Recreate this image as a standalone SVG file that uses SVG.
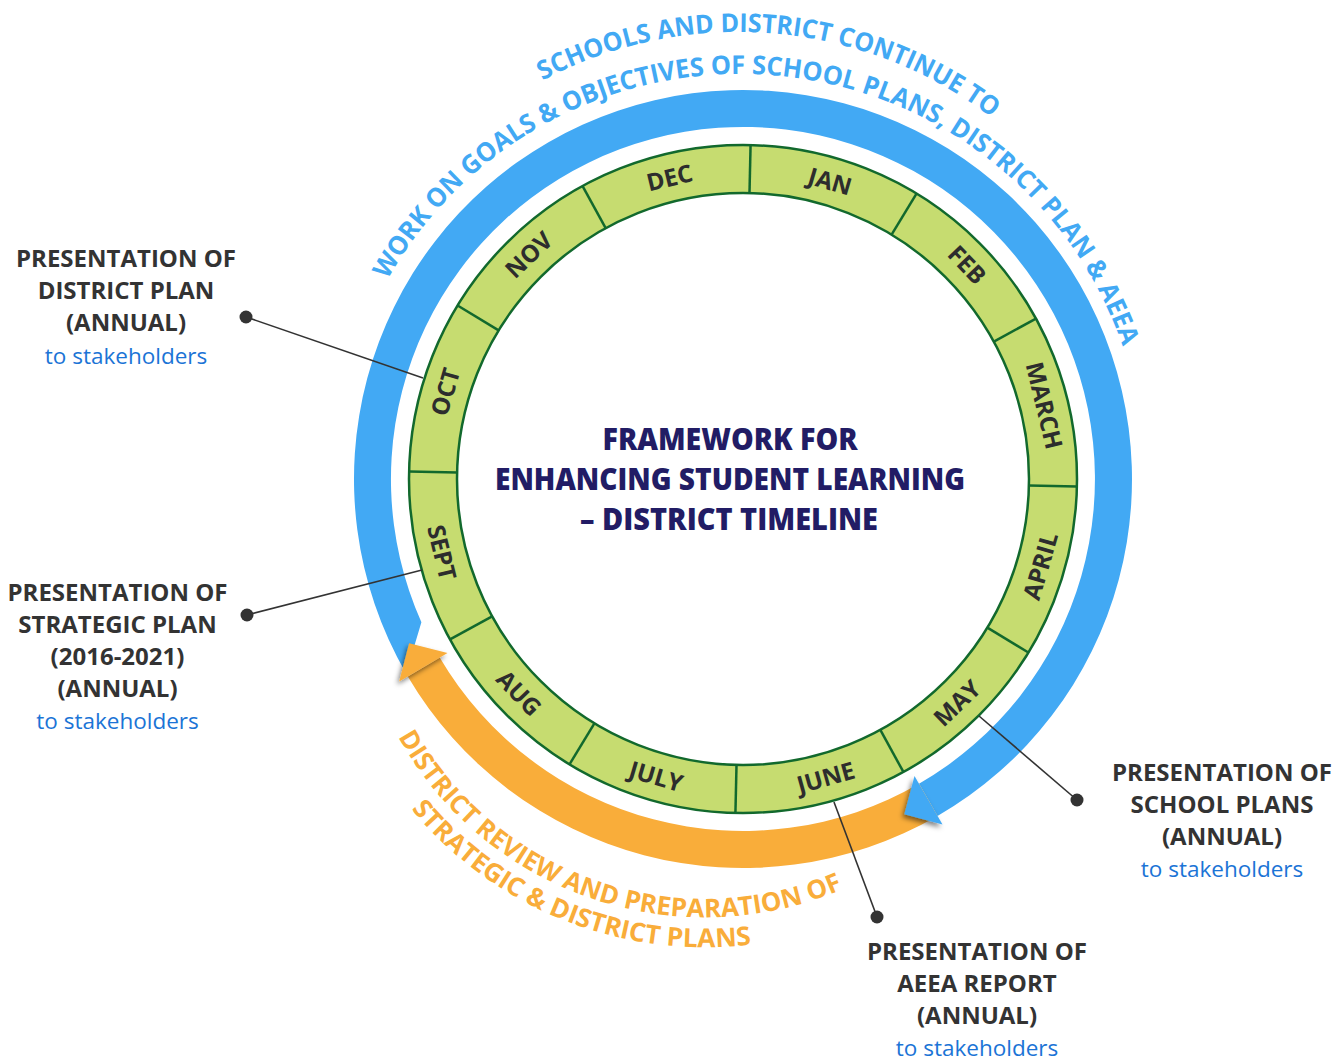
<svg xmlns="http://www.w3.org/2000/svg" width="1342" height="1061" viewBox="0 0 1342 1061">
<defs>
<style>
.lbl{font-family:"Open Sans","Liberation Sans",sans-serif;font-weight:700;font-size:24px;fill:#333333;text-anchor:middle}
.sub{font-family:"Open Sans","Liberation Sans",sans-serif;font-weight:400;font-size:22.5px;fill:#1b74d6;text-anchor:middle}
.mon{font-family:"Open Sans","Liberation Sans",sans-serif;font-weight:700;font-size:24px;fill:#2d2d2d;text-anchor:middle}
.ttl{font-family:"Open Sans","Liberation Sans",sans-serif;font-weight:800;font-size:30px;fill:#221c65;text-anchor:middle}
.barc{font-family:"Open Sans","Liberation Sans",sans-serif;font-weight:700;font-size:26px;fill:#42a9f4;text-anchor:middle}
.oarc{font-family:"Open Sans","Liberation Sans",sans-serif;font-weight:700;font-size:26px;fill:#f9ad3a;text-anchor:middle}
.div{stroke:#12692d;stroke-width:2.5}
.ring{fill:none;stroke:#12692d;stroke-width:2.5}
.con{stroke:#333333;stroke-width:1.6;fill:none}
.dot{fill:#333333}
</style>
<filter id="sh" x="-40%" y="-40%" width="180%" height="180%">
<feDropShadow dx="-2" dy="3" stdDeviation="2.5" flood-color="#000000" flood-opacity="0.5"/>
</filter>
<path id="bp1" d="M326.4 522.6 A418 418 0 1 1 1130.8 593.0"/>
<path id="bp2" d="M341.2 549.3 A405 405 0 1 1 1120.6 617.5"/>
<path id="op1" d="M366.0 475.2 A351 351 0 1 0 1050.7 626.9"/>
<path id="op2" d="M337.0 467.4 A381 381 0 1 0 1080.2 632.2"/>
</defs>
<rect width="1342" height="1061" fill="#ffffff"/>

<g id="cycle-arrows">
<path id="blue-band" d="M406.1 673.5 A389 389 0 1 1 937.5 815.9 L919 783.8 A352 352 0 1 0 421.4 622.2 Z" fill="#42a9f4"/>
<path id="orange-band" d="M937.5 815.9 A389 389 0 0 1 407.8 676.4 L439.7 657.6 A352 352 0 0 0 919 783.8 Z" fill="#f9ad3a"/>
<polygon id="orange-head" points="447.5,653.1 399.2,681.5 409.1,643.2" fill="#f9ad3a" filter="url(#sh)"/>
<polygon id="blue-head" points="914.5,776 942.5,824.5 904.3,814.3" fill="#42a9f4" filter="url(#sh)"/>
</g>

<g id="blue-caption">
<text class="barc"><textPath href="#bp1" startOffset="764.2" textLength="476" lengthAdjust="spacingAndGlyphs">SCHOOLS AND DISTRICT CONTINUE TO</textPath></text>
<text class="barc"><textPath href="#bp2" startOffset="743.3" textLength="929" lengthAdjust="spacingAndGlyphs">WORK ON GOALS &amp; OBJECTIVES OF SCHOOL PLANS, DISTRICT PLAN &amp; AEEA</textPath></text>
</g>

<g id="orange-caption">
<text class="oarc"><textPath href="#op1" startOffset="527.5" textLength="515" lengthAdjust="spacingAndGlyphs">DISTRICT REVIEW AND PREPARATION OF</textPath></text>
<text class="oarc"><textPath href="#op2" startOffset="553.9" textLength="382" lengthAdjust="spacingAndGlyphs">STRATEGIC &amp; DISTRICT PLANS</textPath></text>
</g>

<g id="month-ring">
<circle cx="743" cy="479" r="310" fill="none" stroke="#c6dc70" stroke-width="48"/>
<circle class="ring" cx="743" cy="479" r="334"/>
<circle class="ring" cx="743" cy="479" r="286"/>
<g transform="translate(743 479)">
<line class="div" x1="0" y1="-286" x2="0" y2="-334" transform="rotate(1.3)"/>
<line class="div" x1="0" y1="-286" x2="0" y2="-334" transform="rotate(31.3)"/>
<line class="div" x1="0" y1="-286" x2="0" y2="-334" transform="rotate(61.3)"/>
<line class="div" x1="0" y1="-286" x2="0" y2="-334" transform="rotate(91.3)"/>
<line class="div" x1="0" y1="-286" x2="0" y2="-334" transform="rotate(121.3)"/>
<line class="div" x1="0" y1="-286" x2="0" y2="-334" transform="rotate(151.3)"/>
<line class="div" x1="0" y1="-286" x2="0" y2="-334" transform="rotate(181.3)"/>
<line class="div" x1="0" y1="-286" x2="0" y2="-334" transform="rotate(211.3)"/>
<line class="div" x1="0" y1="-286" x2="0" y2="-334" transform="rotate(241.3)"/>
<line class="div" x1="0" y1="-286" x2="0" y2="-334" transform="rotate(271.3)"/>
<line class="div" x1="0" y1="-286" x2="0" y2="-334" transform="rotate(301.3)"/>
<line class="div" x1="0" y1="-286" x2="0" y2="-334" transform="rotate(331.3)"/>
</g>
</g>

<g id="months">
<text id="m-jan" class="mon" transform="translate(743 479) rotate(16.3) translate(0 -301.5)">JAN</text>
<text id="m-feb" class="mon" transform="translate(743 479) rotate(46.3) translate(0 -301.5)">FEB</text>
<text id="m-mar" class="mon" transform="translate(743 479) rotate(76.3) translate(0 -301.5)">MARCH</text>
<text id="m-apr" class="mon" transform="translate(743 479) rotate(-73.7) translate(0 318.5)">APRIL</text>
<text id="m-may" class="mon" transform="translate(743 479) rotate(-43.7) translate(0 318.5)">MAY</text>
<text id="m-jun" class="mon" transform="translate(743 479) rotate(-15.5) translate(0 318.5)">JUNE</text>
<text id="m-jul" class="mon" transform="translate(743 479) rotate(16.3) translate(0 318.5)">JULY</text>
<text id="m-aug" class="mon" transform="translate(743 479) rotate(46.3) translate(0 318.5)">AUG</text>
<text id="m-sep" class="mon" transform="translate(743 479) rotate(76.3) translate(0 318.5)">SEPT</text>
<text id="m-oct" class="mon" transform="translate(743 479) rotate(-73.7) translate(0 -301.5)">OCT</text>
<text id="m-nov" class="mon" transform="translate(743 479) rotate(-43.7) translate(0 -301.5)">NOV</text>
<text id="m-dec" class="mon" transform="translate(743 479) rotate(-13.7) translate(0 -301.5)">DEC</text>
</g>

<g id="title">
<text class="ttl" x="730" y="450" textLength="255" lengthAdjust="spacingAndGlyphs">FRAMEWORK FOR</text>
<text class="ttl" x="730" y="490" textLength="470" lengthAdjust="spacingAndGlyphs">ENHANCING STUDENT LEARNING</text>
<text class="ttl" x="729" y="530" textLength="298" lengthAdjust="spacingAndGlyphs">– DISTRICT TIMELINE</text>
</g>

<g id="connectors">
<line class="con" x1="246" y1="317" x2="423" y2="378"/>
<circle class="dot" cx="246" cy="317" r="6.5"/>
<line class="con" x1="247" y1="615" x2="422" y2="570"/>
<circle class="dot" cx="247" cy="615" r="6.5"/>
<line class="con" x1="1077" y1="800" x2="979" y2="716"/>
<circle class="dot" cx="1077" cy="800" r="6.5"/>
<line class="con" x1="877" y1="917" x2="834" y2="802"/>
<circle class="dot" cx="877" cy="917" r="6.5"/>
</g>

<g id="label-district-plan">
<text class="lbl" x="126" y="267">PRESENTATION OF</text>
<text class="lbl" x="126" y="299">DISTRICT PLAN</text>
<text class="lbl" x="126" y="331">(ANNUAL)</text>
<text class="sub" x="126" y="364">to stakeholders</text>
</g>

<g id="label-strategic-plan">
<text class="lbl" x="117.5" y="601">PRESENTATION OF</text>
<text class="lbl" x="117.5" y="633">STRATEGIC PLAN</text>
<text class="lbl" x="117.5" y="665">(2016-2021)</text>
<text class="lbl" x="117.5" y="697">(ANNUAL)</text>
<text class="sub" x="117.5" y="729">to stakeholders</text>
</g>

<g id="label-school-plans">
<text class="lbl" x="1222" y="781">PRESENTATION OF</text>
<text class="lbl" x="1222" y="813">SCHOOL PLANS</text>
<text class="lbl" x="1222" y="845">(ANNUAL)</text>
<text class="sub" x="1222" y="877">to stakeholders</text>
</g>

<g id="label-aeea-report">
<text class="lbl" x="977" y="960">PRESENTATION OF</text>
<text class="lbl" x="977" y="992">AEEA REPORT</text>
<text class="lbl" x="977" y="1024">(ANNUAL)</text>
<text class="sub" x="977" y="1056">to stakeholders</text>
</g>
</svg>
